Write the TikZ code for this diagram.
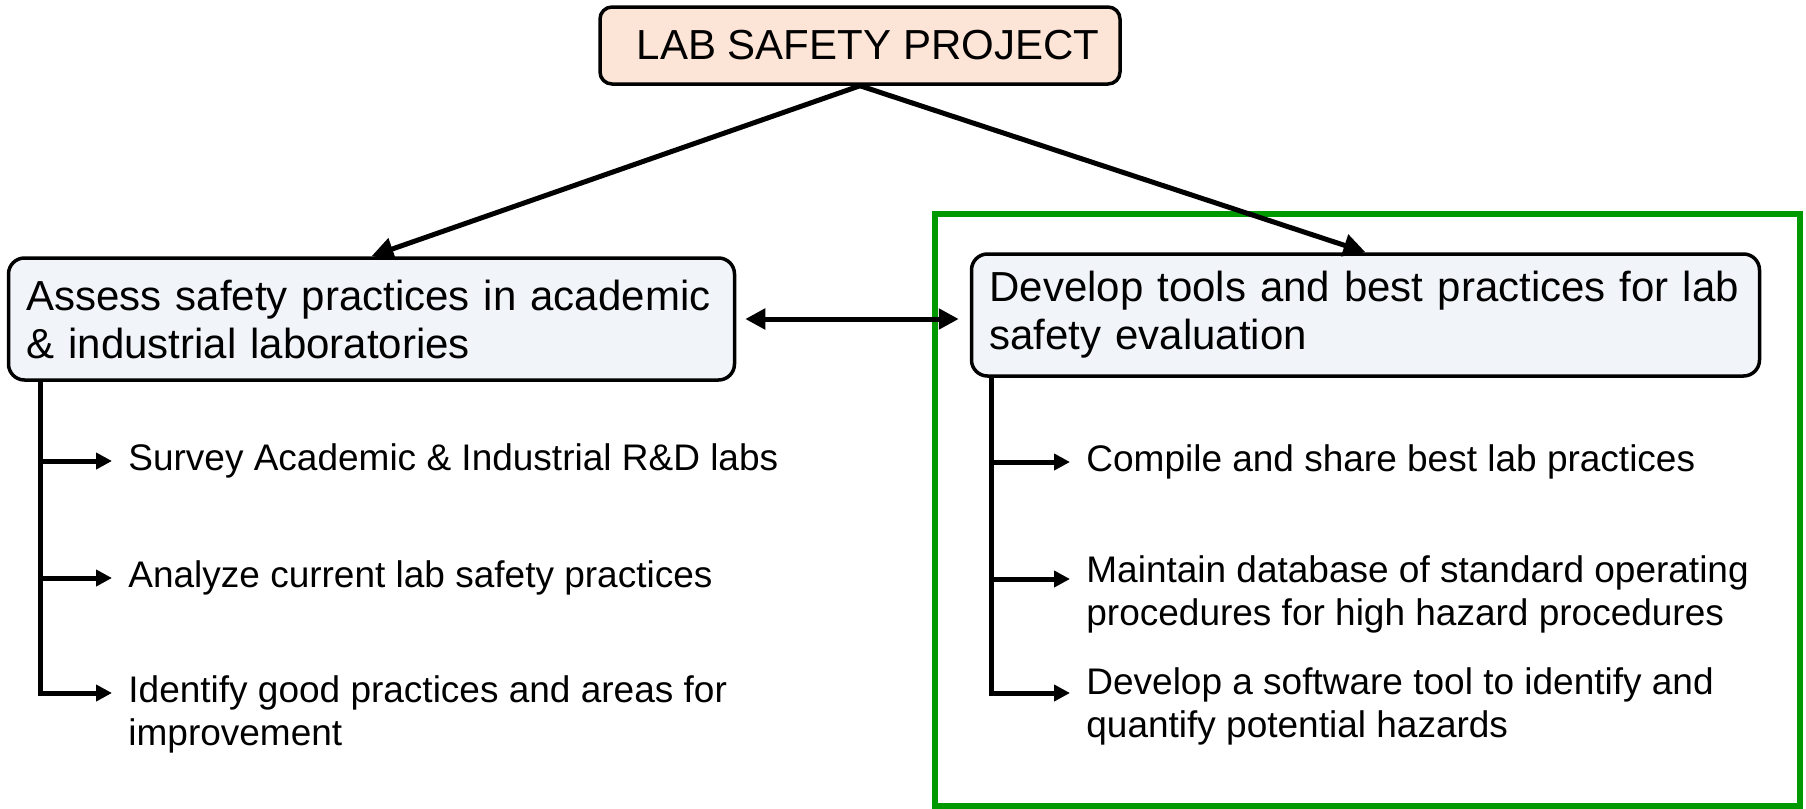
\documentclass[tikz,border=0pt]{standalone}
\usepackage{fontspec}
\setmainfont{Liberation Sans}
\usetikzlibrary{arrows.meta}
\definecolor{peach}{RGB}{252,228,214}
\definecolor{paleblue}{RGB}{241,245,250}
\definecolor{framegreen}{RGB}{0,153,0}
\newcommand*{\boxFont}{\fontsize{21}{24}\selectfont}
\newcommand*{\itemFont}{\fontsize{18.5}{21.5}\selectfont}

\begin{document}
\begin{tikzpicture}[x=0.5pt,y=-0.5pt,
    topbox/.style={draw,line width=1.75pt,rounded corners=6pt,fill=peach,
      minimum width=260pt,minimum height=38.5pt,font=\boxFont},
    aimbox/.style={draw,line width=1.75pt,rounded corners=8pt,fill=paleblue,
      minimum height=61pt,align=left,inner xsep=9pt,font=\boxFont},
    itemtext/.style={anchor=west,align=left,inner xsep=8pt,inner ysep=0pt,
      font=\itemFont},
    link/.style={line width=2.5pt,-{Triangle[length=11pt,width=11pt]}},
    biarrow/.style={line width=2.5pt,
      {Triangle[length=10pt,width=10pt]}-{Triangle[length=10pt,width=10pt]}},
    branch/.style={line width=2.5pt,-{Triangle[length=8pt,width=8pt]}},
    spine/.style={line width=2.5pt,line cap=rect}]
    \useasboundingbox (0,0) rectangle (1806,809);

    % frame round the second aim
    \draw [line width=3pt,framegreen] (935,214) rectangle (1800,806);

    \node [topbox] (project) at (860,45.5) {\hspace*{8pt}LAB SAFETY PROJECT};
    \node [aimbox,text width=345pt] (assess) at (371.5,319)
      {Assess safety practices in academic\\ \& industrial laboratories};
    \node [aimbox,text width=376pt] (develop) at (1365.5,315)
      {Develop tools and best practices for lab\\ safety evaluation};

    \draw [link] (project.south) -- (assess.north);
    \draw [link] (project.south) -- (develop.north);
    \draw [biarrow,shorten <=4.5pt,shorten >=5.5pt]
      (assess.east) -- (assess.east -| develop.west);

    % tasks of the first aim
    \node [itemtext] (survey) at (112,461) {Survey Academic \& Industrial R\&D labs};
    \node [itemtext] (analyze) at (112,578) {Analyze current lab safety practices};
    \node [itemtext] (identify) at (112,714)
      {Identify good practices and areas for\\ improvement};

    % tasks of the second aim
    \node [itemtext] (compile) at (1070,462) {Compile and share best lab practices};
    \node [itemtext] (maintain) at (1070,594.5)
      {Maintain database of standard operating\\ procedures for high hazard procedures};
    \node [itemtext] (software) at (1070,706)
      {Develop a software tool to identify and\\ quantify potential hazards};

    \coordinate (lspine) at ([xshift=17pt]assess.south west);
    \coordinate (rspine) at ([xshift=11pt]develop.south west);

    \foreach \task/\dy in {survey/0pt,analyze/0pt,identify/10.5pt} {
      \coordinate (tip-\task) at ([yshift=\dy]\task.west);
      \draw [branch] (lspine |- tip-\task) -- (tip-\task);
    }
    \foreach \task/\dy in {compile/0pt,maintain/7.75pt,software/6.5pt} {
      \coordinate (tip-\task) at ([yshift=\dy]\task.west);
      \draw [branch] (rspine |- tip-\task) -- (tip-\task);
    }
    \draw [spine] (lspine) -- (lspine |- tip-identify);
    \draw [spine] (rspine) -- (rspine |- tip-software);
  \end{tikzpicture}
\end{document}
